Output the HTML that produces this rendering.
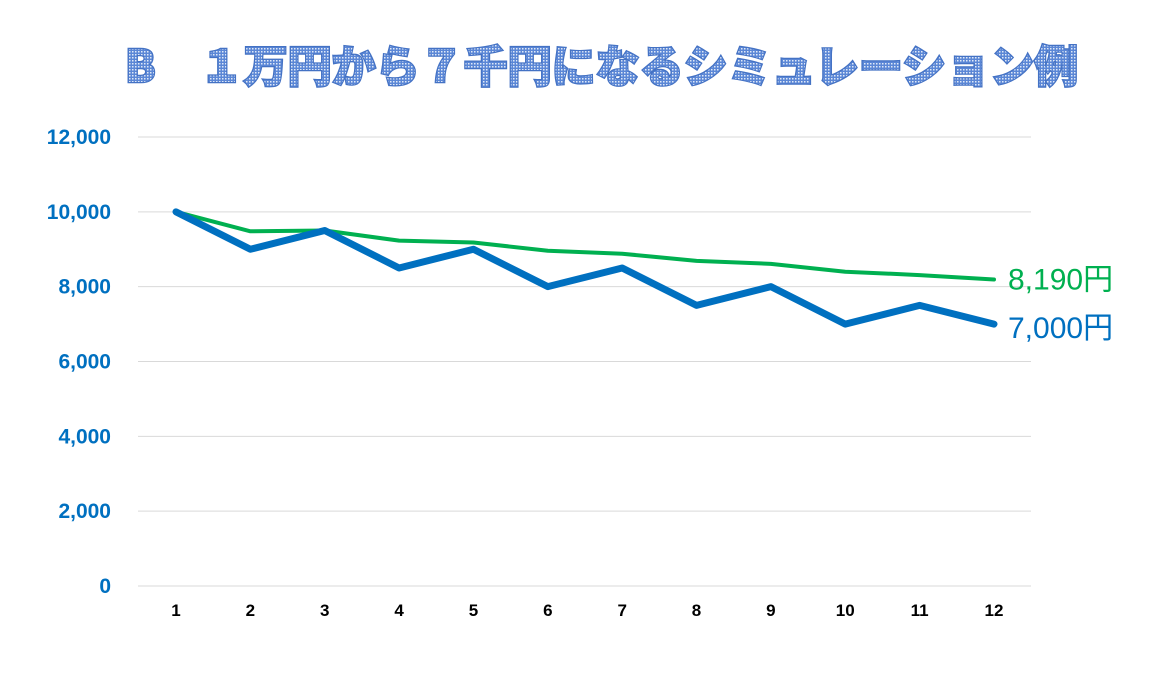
<!DOCTYPE html>
<html><head><meta charset="utf-8">
<style>
body{margin:0;width:1154px;height:683px;background:#fff;overflow:hidden}
svg text{font-family:"Liberation Sans","Noto Sans CJK JP",sans-serif}
</style></head>
<body>
<svg id="chart" width="1154" height="683" xmlns="http://www.w3.org/2000/svg">
<defs>
<pattern id="dots" width="3" height="3" patternUnits="userSpaceOnUse">
<rect width="3" height="3" fill="#5b87d6"/><rect width="1.5" height="1.5" fill="#dfe8f7"/>
</pattern>
</defs>
<text x="125" y="82" textLength="953" lengthAdjust="spacingAndGlyphs" font-size="44" font-weight="bold" fill="url(#dots)" stroke="#4472c4" stroke-width="2.5" paint-order="stroke" style="font-family:'Noto Sans CJK JP','Liberation Sans',sans-serif;font-weight:900">B　１万円から７千円になるシミュレーション例</text>
<g id="grid"></g><g id="yt"></g><g id="xt"></g><g id="lines"></g>
</svg>
<script>
const categories=[1,2,3,4,5,6,7,8,9,10,11,12];
const blueValues=[10000,9000,9500,8500,9000,8000,8500,7500,8000,7000,7500,7000];
const greenValues=[10000,9480,9500,9230,9180,8960,8880,8690,8610,8400,8310,8190];
const yTicks=[0,2000,4000,6000,8000,10000,12000];
const blueLabel="7,000円", greenLabel="8,190円";
const NS="http://www.w3.org/2000/svg";
const x=i=>176+(994-176)*i/(categories.length-1);
const y=v=>586-(586-137)*v/12000;
function mk(t,a,p){const e=document.createElementNS(NS,t);for(const k in a)e.setAttribute(k,a[k]);p.appendChild(e);return e;}
const grid=document.getElementById('grid'),yt=document.getElementById('yt'),xt=document.getElementById('xt'),ln=document.getElementById('lines');
yTicks.forEach(v=>{
 const l=mk('line',{x1:138,x2:1031,y1:y(v),y2:y(v),stroke:'#d9d9d9','stroke-width':1},grid);
 
 
 const t=mk('text',{x:111,y:y(v)+7,'text-anchor':'end','font-size':21,'font-weight':'bold',fill:'#0070c0'},yt);
 t.textContent=v.toLocaleString('en-US');
 
 
});
categories.forEach((c,i)=>{
 const t=mk('text',{x:x(i),y:616,'text-anchor':'middle','font-size':17,'font-weight':'bold',fill:'#000'},xt);
 t.textContent=c;
 
 
});
function series(vals,color,w,name){
 const p=mk('polyline',{points:vals.map((v,i)=>x(i)+','+y(v)).join(' '),fill:'none',stroke:color,'stroke-width':w,'stroke-linejoin':'round','stroke-linecap':'round'},ln);
 
 
}
series(greenValues,'#00b050',4,'green-series-line');
series(blueValues,'#0070c0',7,'blue-series-line');
const n=categories.length-1;
const g=mk('text',{x:1008,y:y(greenValues[n])+10,'font-size':30,fill:'#00b050'},ln);
g.textContent=greenLabel;


const b=mk('text',{x:1008,y:y(blueValues[n])+14,'font-size':30,fill:'#0070c0'},ln);
b.textContent=blueLabel;


</script>
</body></html>
